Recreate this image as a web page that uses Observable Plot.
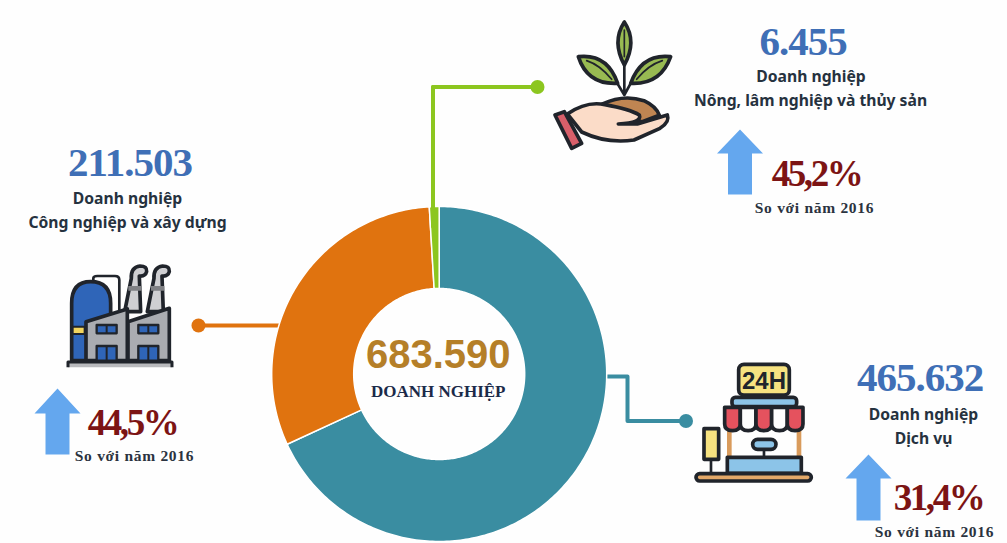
<!DOCTYPE html>
<html lang="vi">
<head>
<meta charset="utf-8">
<title>Doanh nghiệp theo khu vực kinh tế</title>
<script src="https://cdn.jsdelivr.net/npm/d3@7"></script>
<script src="https://cdn.jsdelivr.net/npm/@observablehq/plot@0.6"></script>
<style>
  html, body { margin: 0; background: #fefefe; }
  svg { display: block; background: #fefefe; }
  .num { letter-spacing: -1px; }
  .pct { letter-spacing: -2.4px; }
  .cmp { letter-spacing: .7px; }
</style>
</head>
<body>
<div id="chart"></div>
<script>
// Enterprise counts by sector and growth against 2016
const sectors = ["Dịch vụ", "Công nghiệp và xây dựng", "Nông, lâm nghiệp và thủy sản"];
const counts = [465632, 211503, 6455];
const growth = [31.4, 44.5, 45.2];
const totalCount = 683590;
const unitLabel = "Doanh nghiệp";
const totalLabel = "DOANH NGHIỆP";
const compareLabel = "So với năm 2016";

const sliceColors = ["#3a8da1", "#e0730f", "#8cc61f"];

const vi = d3.formatLocale({thousands: ".", grouping: [3], decimal: ",", currency: ["", ""]});
const fmtCount = vi.format(",d");
const fmtPct = d => vi.format(",.1f")(d) + "%";

// Donut slices as closed rings, angles computed from the counts
const cx = 438.7, cy = 373.5, rOuter = 167.5, rInner = 85.5;
const arcs = d3.pie().sort(null)(counts);
const ring = arcs.flatMap((a, i) => {
  const n = Math.max(4, Math.ceil((a.endAngle - a.startAngle) * 60));
  const steps = d3.range(n + 1).map(k => a.startAngle + (a.endAngle - a.startAngle) * k / n);
  const at = (r, t) => ({name: sectors[i], x: cx + r * Math.sin(t), y: cy - r * Math.cos(t)});
  return [...steps.map(t => at(rOuter, t)), ...steps.reverse().map(t => at(rInner, t))];
});

// Leader lines from each slice to a round end cap beside its icon
const leaders = [
  {name: sectors[0], end: [685.5, 420.5], path: [[607, 376], [627, 376], [627, 420.5], [685.5, 420.5]]},
  {name: sectors[1], end: [198, 325], path: [[198, 325], [279, 325]]},
  {name: sectors[2], end: [537, 86.5], path: [[537, 86.5], [432.5, 86.5], [432.5, 226]]}
];
const leaderPts = leaders.flatMap(d => d.path.map(([x, y]) => ({name: d.name, x, y})));

// Placement of each sector's text block, in the order of `sectors`
const blocks = [
  {i: 0, num: [919.5, 390.5], l1: [923, 419], l2: [923, 443], pct: [938, 509], cmp: [934, 536],
   arrow: {x: 868, top: 454, base: 478, bottom: 520}, line2: "Dịch vụ"},
  {i: 1, num: [129.5, 175], l1: [127, 203], l2: [127, 227], pct: [132, 434], cmp: [134, 460],
   arrow: {x: 57, top: 388, base: 413, bottom: 454}, line2: "Công nghiệp và xây dựng"},
  {i: 2, num: [802.5, 54], l1: [810.5, 81.5], l2: [810, 105.5], pct: [816, 185], cmp: [814, 212],
   arrow: {x: 739.5, top: 129, base: 153, bottom: 194}, line2: "Nông, lâm nghiệp và thủy sản"}
];

const arrowPts = blocks.flatMap(b => {
  const {x, top, base, bottom} = b.arrow, head = 23, shaft = 12;
  return [[x, top], [x + head, base], [x + shaft, base], [x + shaft, bottom],
          [x - shaft, bottom], [x - shaft, base], [x - head, base]]
    .map(([px, py]) => ({k: b.i, x: px, y: py}));
});

const sans = "'Noto Sans', 'Open Sans', sans-serif";
const serif = "'Liberation Serif', serif";

// Pictograms, authored on a 3x grid and scaled down into place
const ink = "#20242b";
const factory = `
  <g transform="translate(0,130) scale(.3333)" stroke="${ink}" stroke-width="11" stroke-linejoin="round" fill="none">
    <path d="M280 455V445Q280 438 292 438H345Q358 438 358 450V540" stroke-width="8"/>
    <path d="M374 545L394 445Q392 412 420 408Q442 408 440 425Q436 440 418 438L422 545Z" fill="#cfcfd2"/>
    <path d="M442 545L462 445Q460 412 488 408Q510 408 508 425Q504 440 486 438L490 545Z" fill="#cfcfd2"/>
    <path d="M385 475H425M453 475H493" stroke="#7f8084" stroke-width="14"/>
    <path d="M215 692V520Q215 455 272 455Q332 455 332 520V692Z" fill="#2f65b8"/>
    <path d="M218 590H254V612H218Z" fill="#f2d55e" stroke-width="6"/>
    <path d="M258 692V575L382 537V692Z" fill="#aaacb1"/>
    <path d="M384 692V575L508 535V692Z" fill="#aaacb1"/>
    <path d="M290 585H350V610H290ZM415 585H475V610H415ZM290 648H350V692H290ZM415 648H475V692H415Z" fill="#2f65b8" stroke-width="7"/>
    <path d="M320 585V610M445 585V610M320 648V692M445 648V692" stroke-width="6"/>
    <path d="M204 712V696H516V712" fill="#b9babd" stroke-width="9"/>
  </g>`;
const plant = `
  <g transform="translate(530,0) scale(.3333)" stroke="${ink}" stroke-width="11" stroke-linejoin="round" stroke-linecap="round" fill="none">
    <path d="M283 198V285M283 285L262 250M283 285L302 250" stroke-width="8"/>
    <path d="M283 66Q245 125 283 195Q322 125 283 66Z" fill="#98ba52"/>
    <path d="M145 170Q232 160 263 250Q172 255 145 170Z" fill="#98ba52"/>
    <path d="M422 170Q335 160 302 250Q392 255 422 170Z" fill="#98ba52"/>
    <path d="M283 90V170M170 182Q210 195 245 238M397 182Q355 195 320 238" stroke-width="5"/>
    <path d="M218 312Q280 282 342 302Q380 320 388 346L335 366Z" fill="#bf8552"/>
    <path d="M112 342Q170 302 225 314Q300 328 328 345Q338 368 265 372H322L412 345Q420 366 390 385L312 420Q230 432 155 396Z" fill="#fbdcc8"/>
    <path d="M75 345L103 335L155 430L125 445Z" fill="#d85f6a"/>
  </g>`;
const scallops = d3.range(5).map(k => {
  const x0 = 314 + k * 47;
  return `<path d="M${x0} 172H${x0 + 47}V222Q${x0 + 47} 242 ${x0 + 23.5} 242Q${x0} 242 ${x0} 222Z" fill="${k % 2 ? "#fdfdfd" : "#e5525e"}"/>`;
}).join("");
const shop = `
  <g transform="translate(620,350) scale(.3333)" stroke="${ink}" stroke-width="11" stroke-linejoin="round" fill="none">
    <rect x="356" y="43" width="152" height="92" rx="16" fill="#f6e280"/>
    <text x="432" y="116" text-anchor="middle" font-family="'Liberation Sans', sans-serif" font-weight="700" font-size="72" fill="${ink}" stroke="none">24H</text>
    <rect x="336" y="142" width="194" height="28" rx="10" fill="#8cc4e8"/>
    <path d="M328 240V322M537 240V322" stroke="#d99b5c" stroke-width="14"/>
    ${scallops}
    <rect x="398" y="268" width="70" height="30" rx="15" fill="#8cc4e8"/>
    <path d="M432 298V322" stroke-width="8"/>
    <rect x="322" y="322" width="222" height="48" fill="#8cc4e8"/>
    <rect x="252" y="236" width="44" height="92" fill="#f6e280"/>
    <path d="M273 328V372" stroke-width="8"/>
    <rect x="228" y="371" width="346" height="22" rx="11" fill="#e3a868"/>
  </g>`;

const pictograms = () => {
  const g = document.createElementNS("http://www.w3.org/2000/svg", "g");
  g.innerHTML = factory + plant + shop;
  return g;
};

const chart = Plot.plot({
  width: 1007,
  height: 543,
  margin: 0,
  x: {domain: [0, 1007], range: [0, 1007], axis: null},
  y: {domain: [0, 543], range: [0, 543], axis: null},
  color: {domain: sectors, range: sliceColors},
  style: {background: "#fefefe"},
  marks: [
    // leader lines sit behind the ring
    Plot.line(leaderPts, {x: "x", y: "y", z: "name", stroke: "name", strokeWidth: 4, strokeLinejoin: "round"}),
    Plot.dot(leaders, {x: d => d.end[0], y: d => d.end[1], fill: "name", r: 7}),
    Plot.line(ring, {x: "x", y: "y", z: "name", fill: "name", stroke: "#ffffff", strokeWidth: 1.5, curve: "linear-closed"}),
    // the green leader runs on into its slice
    Plot.line(leaderPts.filter(d => d.name === sectors[2]), {x: "x", y: "y", stroke: "name", strokeWidth: 4}),
    Plot.line(arrowPts, {x: "x", y: "y", z: "k", fill: "#64a7ee", stroke: null, curve: "linear-closed"}),
    pictograms,
    // sector figures and captions
    Plot.text(blocks, {x: d => d.num[0], y: d => d.num[1], text: d => fmtCount(counts[d.i]), fill: "#3f6fb6",
      fontFamily: serif, fontWeight: 700, fontSize: 41, lineAnchor: "bottom", className: "num"}),
    Plot.text(blocks, {x: d => d.l1[0], y: d => d.l1[1], text: () => unitLabel, fill: "#26323f",
      fontFamily: sans, fontWeight: 700, fontSize: 15.7, lineAnchor: "bottom"}),
    Plot.text(blocks, {x: d => d.l2[0], y: d => d.l2[1], text: d => d.line2, fill: "#26323f",
      fontFamily: sans, fontWeight: 700, fontSize: 15.7, lineAnchor: "bottom"}),
    Plot.text(blocks, {x: d => d.pct[0], y: d => d.pct[1], text: d => fmtPct(growth[d.i]), fill: "#7c1414",
      fontFamily: serif, fontWeight: 700, fontSize: 37, lineAnchor: "bottom", className: "pct"}),
    Plot.text(blocks, {x: d => d.cmp[0], y: d => d.cmp[1], text: () => compareLabel, fill: "#2b3340",
      fontFamily: serif, fontWeight: 700, fontSize: 15.5, lineAnchor: "bottom", className: "cmp"}),
    // total in the hole of the ring
    Plot.text([totalCount], {x: cx - 1, y: 367.5, text: d => fmtCount(d), fill: "#b57f28",
      fontFamily: "'Liberation Sans', sans-serif", fontWeight: 700, fontSize: 40, lineAnchor: "bottom"}),
    Plot.text([totalLabel], {x: cx - 1, y: 396, text: d => d, fill: "#1b2a49",
      fontFamily: serif, fontWeight: 700, fontSize: 17, lineAnchor: "bottom"})
  ]
});
document.getElementById("chart").append(chart);
</script>
</body>
</html>
